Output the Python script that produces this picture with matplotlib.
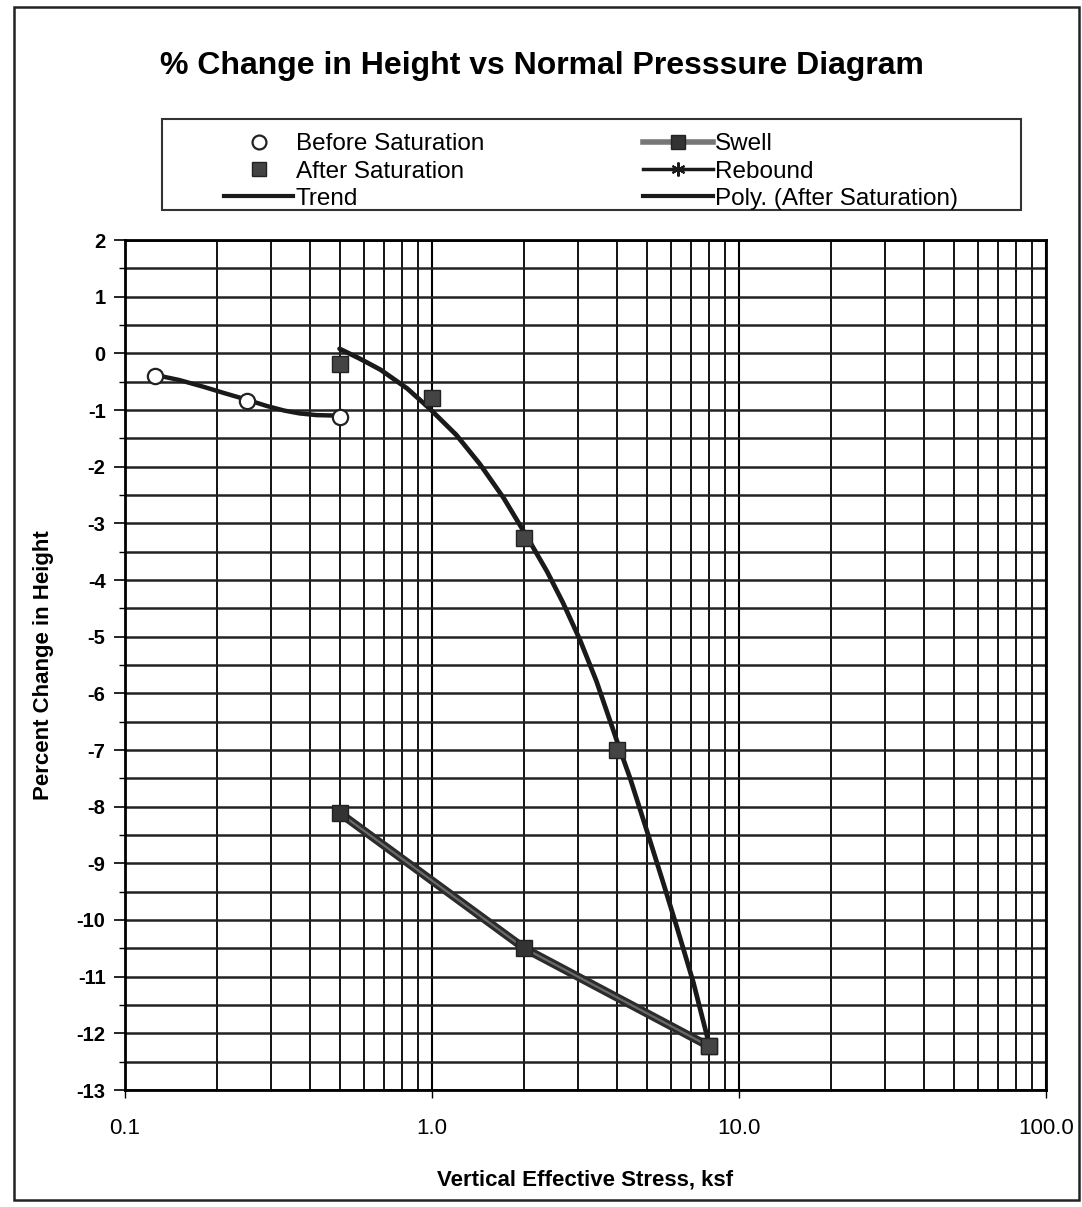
import matplotlib
matplotlib.use("Agg")
import matplotlib.pyplot as plt
from matplotlib.lines import Line2D
from matplotlib.patches import Rectangle
from matplotlib.ticker import FixedLocator, NullFormatter, MultipleLocator

plt.rcParams['font.family'] = ['Liberation Sans', 'DejaVu Sans']

# ---- data ----
before_x = [0.125, 0.25, 0.5]
before_y = [-0.40, -0.84, -1.12]

trend_x = [0.125, 0.15, 0.18, 0.21, 0.25, 0.29, 0.33, 0.37, 0.42, 0.5]
trend_y = [-0.38, -0.47, -0.59, -0.70, -0.82, -0.93, -1.01, -1.06, -1.09, -1.10]

after_x = [0.5, 1.0, 2.0, 4.0, 8.0]
after_y = [-0.18, -0.78, -3.26, -7.00, -12.23]

swell_x = [0.5, 2.0, 8.0]
swell_y = [-8.11, -10.50, -12.23]

poly_x = [0.5, 0.58, 0.68, 0.83, 0.98, 1.20, 1.43, 1.71, 2.03, 2.37, 2.67,
          3.03, 3.43, 4.08, 4.42, 5.13, 5.67, 6.27, 7.10, 8.0]
poly_y = [0.08, -0.09, -0.29, -0.62, -0.97, -1.44, -1.95, -2.55, -3.22, -3.85,
          -4.40, -5.05, -5.78, -6.97, -7.50, -8.60, -9.35, -10.12, -11.10, -12.20]

x_ticks = [0.1, 1.0, 10.0, 100.0]
x_ticklabels = ['0.1', '1.0', '10.0', '100.0']
y_ticks = list(range(2, -14, -1))

title = '% Change in Height vs Normal Presssure Diagram'
xlabel = 'Vertical Effective Stress, ksf'
ylabel = 'Percent Change in Height'

# ---- figure ----
fig = plt.figure(figsize=(10.82, 12.07), dpi=100)
ax = fig.add_axes([125/1082, 1-1090/1207, (1046-125)/1082, (1090-240)/1207])

ax.set_xscale('log')
ax.set_xlim(0.1, 100)
ax.set_ylim(-13, 2)

# grid
ax.xaxis.set_major_locator(FixedLocator(x_ticks))
minors = [m*10.0**e for e in (-1, 0, 1) for m in range(2, 10)]
ax.xaxis.set_minor_locator(FixedLocator(minors))
ax.xaxis.set_minor_formatter(NullFormatter())
ax.set_xticks(x_ticks)
ax.set_xticklabels(x_ticklabels)
ax.yaxis.set_major_locator(FixedLocator(y_ticks))
ax.yaxis.set_minor_locator(MultipleLocator(0.5))
ax.set_yticklabels([str(v) for v in y_ticks], fontweight='bold')

ax.grid(True, which='major', axis='x', color='black', lw=1.5)
ax.grid(True, which='minor', axis='x', color='black', lw=1.3)
ax.grid(True, which='both', axis='y', color='#222222', lw=1.8)
ax.set_axisbelow(True)

ax.tick_params(axis='y', which='major', direction='out', length=8, width=1.2,
               labelsize=14.5, pad=6)
ax.tick_params(axis='y', which='minor', direction='out', length=4, width=1.0)
ax.tick_params(axis='x', which='major', direction='out', length=6, width=1.0,
               labelsize=16, pad=14)
ax.tick_params(axis='x', which='minor', length=0)
for s in ax.spines.values():
    s.set_linewidth(2.0)
    s.set_color('black')

# series
ax.plot(trend_x, trend_y, color='#1a1a1a', lw=3.2, solid_capstyle='round',
        solid_joinstyle='round', zorder=3)
ax.plot(before_x, before_y, linestyle='none', marker='o', ms=11, mfc='white',
        mec='#222222', mew=1.6, zorder=4)
ax.plot(swell_x, swell_y, color='#2b2b2b', lw=6, zorder=3)
ax.plot(swell_x, swell_y, color='#6a6a6a', lw=1.6, marker='s', ms=11,
        mfc='#333333', mec='#222222', zorder=3)
ax.plot(poly_x, poly_y, color='#1a1a1a', lw=3.4, solid_joinstyle='round',
        solid_capstyle='round', zorder=3)
ax.plot(after_x, after_y, linestyle='none', marker='s', ms=11, mfc='#444444',
        mec='#222222', zorder=4)

ax.set_ylabel(ylabel, fontsize=16, fontweight='bold', labelpad=16)
ax.set_xlabel(xlabel, fontsize=16, fontweight='bold', labelpad=22)

fig.text(542/1082, 1-66/1207, title, ha='center', va='center', fontsize=23,
         fontweight='bold')

# legend
handles = [
    Line2D([], [], linestyle='none', marker='o', ms=10, mfc='white', mec='#222222', mew=1.6),
    Line2D([], [], linestyle='none', marker='s', ms=10, mfc='#444444', mec='#222222'),
    Line2D([], [], color='#1a1a1a', lw=3),
    Line2D([], [], color='#777777', lw=4, marker='s', ms=10, mfc='#333333', mec='#222222'),
    Line2D([], [], color='#1a1a1a', lw=2.5, marker=(6, 2, 0), ms=10, mec='#1a1a1a', mew=1.5),
    Line2D([], [], color='#1a1a1a', lw=3),
]
labels = ['Before Saturation', 'After Saturation', 'Trend', 'Swell', 'Rebound',
          'Poly. (After Saturation)']
leg = fig.legend(handles, labels, ncol=2, loc='upper left',
                 bbox_to_anchor=(212/1082, 1-121/1207), frameon=False,
                 fontsize=17.5, handlelength=2.85, handletextpad=0.1,
                 columnspacing=6.55, labelspacing=0.22, borderpad=0.0)
fig.patches.append(Rectangle((162/1082, 1-210/1207), (1021-162)/1082, (210-119)/1207,
                             transform=fig.transFigure, fill=False, ec='#333333', lw=1.5))

# page frame
fig.patches.append(Rectangle((14/1082, 1-1200/1207), (1079-14)/1082, (1200-7)/1207,
                             transform=fig.transFigure, fill=False, ec='#222222', lw=1.8))

fig.savefig('out.png', dpi=100)
